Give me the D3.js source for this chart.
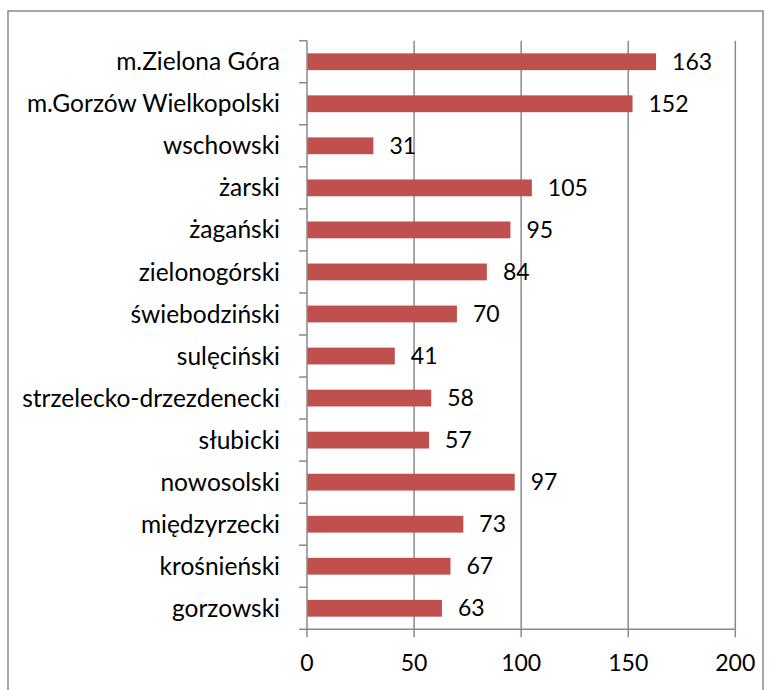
<!DOCTYPE html>
<html lang="pl">
<head>
<meta charset="UTF-8">
<title>Powiaty</title>
<script src="https://d3js.org/d3.v7.min.js"></script>
<style>
  body { margin: 0; background: #fff; }
  text { font-family: Lato, "Open Sans", sans-serif; fill: #000; }
</style>
</head>
<body>
<script>
const categories = ["m.Zielona Góra", "m.Gorzów Wielkopolski", "wschowski", "żarski", "żagański",
  "zielonogórski", "świebodziński", "sulęciński", "strzelecko-drzezdenecki", "słubicki",
  "nowosolski", "międzyrzecki", "krośnieński", "gorzowski"];
const values = [163, 152, 31, 105, 95, 84, 70, 41, 58, 57, 97, 73, 67, 63];
const xTicks = [0, 50, 100, 150, 200];

const width = 770, height = 690;
const margin = { left: 307, right: 35, top: 40.7, bottom: 60.7 };

const svg = d3.select("body").append("svg")
  .attr("width", width)
  .attr("height", height);

// chart frame
svg.append("rect")
  .attr("x", 8).attr("y", 11)
  .attr("width", 755).attr("height", 700)
  .attr("fill", "none")
  .attr("stroke", "#8a8a8a")
  .attr("stroke-width", 1.5);

const x = d3.scaleLinear().domain([0, 200]).range([margin.left, width - margin.right + 0.3]);
const y = d3.scaleBand().domain(categories)
  .range([margin.top, height - margin.bottom])
  .paddingInner(0.6).paddingOuter(0.3);

const grid = "#8a8a8a";

// vertical gridlines
svg.append("g").selectAll("line")
  .data(xTicks.slice(1))
  .join("line")
  .attr("x1", d => x(d)).attr("x2", d => x(d))
  .attr("y1", margin.top).attr("y2", height - margin.bottom)
  .attr("stroke", grid).attr("stroke-width", 1.5);

// bars
svg.append("g").selectAll("rect")
  .data(values)
  .join("rect")
  .attr("x", x(0))
  .attr("y", (d, i) => y(categories[i]))
  .attr("width", d => x(d) - x(0))
  .attr("height", y.bandwidth())
  .attr("fill", "#c0504d");

// y axis line + ticks on band boundaries
const yAxisG = svg.append("g");
yAxisG.append("line")
  .attr("x1", x(0)).attr("x2", x(0))
  .attr("y1", margin.top).attr("y2", height - margin.bottom)
  .attr("stroke", grid).attr("stroke-width", 1.5);
const bounds = d3.range(categories.length + 1).map(i => margin.top + i * (height - margin.bottom - margin.top) / categories.length);
yAxisG.selectAll("line.tick")
  .data(bounds)
  .join("line")
  .attr("class", "tick")
  .attr("x1", x(0) - 8).attr("x2", x(0))
  .attr("y1", d => d).attr("y2", d => d)
  .attr("stroke", grid).attr("stroke-width", 1.5);

yAxisG.selectAll("text")
  .data(categories)
  .join("text")
  .attr("x", 280)
  .attr("y", d => y(d) + y.bandwidth() / 2)
  .attr("dy", "0.35em")
  .attr("text-anchor", "end")
  .attr("font-size", 24.5)
  .text(d => d);

// x axis
const xAxisG = svg.append("g").attr("transform", `translate(0,${height - margin.bottom})`);
xAxisG.append("line")
  .attr("x1", x(0)).attr("x2", x(200))
  .attr("stroke", grid).attr("stroke-width", 1.5);
xAxisG.selectAll("line.tick")
  .data(xTicks)
  .join("line")
  .attr("class", "tick")
  .attr("x1", d => x(d)).attr("x2", d => x(d))
  .attr("y1", 0).attr("y2", 8)
  .attr("stroke", grid).attr("stroke-width", 1.5);
xAxisG.selectAll("text")
  .data(xTicks)
  .join("text")
  .attr("x", d => x(d))
  .attr("y", 34)
  .attr("dy", "0.35em")
  .attr("text-anchor", "middle")
  .attr("font-size", 23)
  .text(d => d);

// data labels
svg.append("g").selectAll("text")
  .data(values)
  .join("text")
  .attr("x", d => x(d) + 16)
  .attr("y", (d, i) => y(categories[i]) + y.bandwidth() / 2)
  .attr("dy", "0.35em")
  .attr("font-size", 23)
  .text(d => d);
</script>
</body>
</html>
